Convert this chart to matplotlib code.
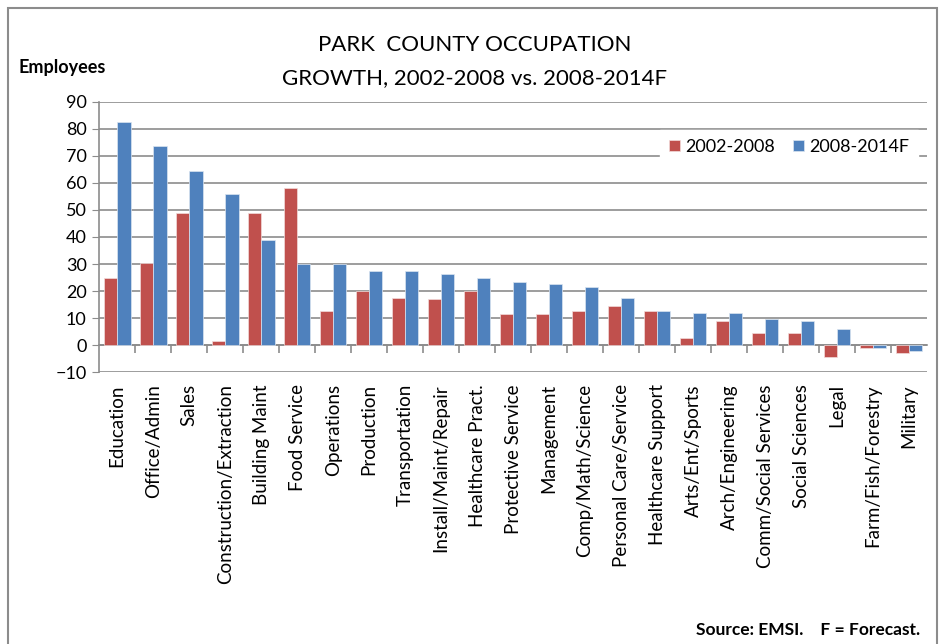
import numpy as np
import matplotlib.pyplot as plt
from matplotlib.patches import Rectangle

plt.rcParams['font.family'] = ['Lato', 'DejaVu Sans']

# Occupation growth, employees
occupations = ['Education', 'Office/Admin', 'Sales', 'Construction/Extraction',
               'Building Maint', 'Food Service', 'Operations', 'Production',
               'Transportation', 'Install/Maint/Repair', 'Healthcare Pract.',
               'Protective Service', 'Management', 'Comp/Math/Science',
               'Personal Care/Service', 'Healthcare Support', 'Arts/Ent/Sports',
               'Arch/Engineering', 'Comm/Social Services', 'Social Sciences',
               'Legal', 'Farm/Fish/Forestry', 'Military']
growth_2002_2008 = [25, 30.5, 49, 1.5, 49, 58, 12.5, 20, 17.5, 17, 20, 11.5,
                    11.5, 12.5, 14.5, 12.5, 2.5, 9, 4.5, 4.5, -4.5, -1, -3]
growth_2008_2014 = [82.5, 73.5, 64.5, 56, 39, 30, 30, 27.5, 27.5, 26.5, 25, 23.5,
                    22.5, 21.5, 17.5, 12.5, 12, 12, 9.5, 9, 6, -1, -2]
y_ticks = list(range(-10, 91, 10))

red = '#C0504D'
blue = '#4F81BD'

fig = plt.figure(figsize=(9.45, 6.44), dpi=100)
ax = fig.add_axes([0.105, 0.422, 0.876, 0.42])

x = np.arange(len(occupations))
w = 0.37
ax.bar(x - w / 2, growth_2002_2008, w, color=red, edgecolor='#f2dcdb', linewidth=0.5,
       label='2002-2008', zorder=3)
ax.bar(x + w / 2, growth_2008_2014, w, color=blue, edgecolor='#dbe5f1', linewidth=0.5,
       label='2008-2014F', zorder=3)

ax.set_xlim(-0.5, len(occupations) - 0.5)
ax.set_ylim(-10, 90)
ax.set_yticks(y_ticks)
ax.yaxis.grid(True, color='#8c8c8c', linewidth=1.2)
ax.set_axisbelow(True)
ax.tick_params(axis='y', length=5, color='#8c8c8c', labelsize=13, pad=4)

ax.spines['bottom'].set_position(('data', 0))
ax.spines['bottom'].set_color('#8c8c8c')
ax.spines['bottom'].set_linewidth(1.2)
ax.spines['left'].set_color('#8c8c8c')
ax.spines['left'].set_linewidth(1.2)
ax.spines['top'].set_visible(False)
ax.spines['right'].set_visible(False)

ax.set_xticks(x)
ax.set_xticklabels(occupations, rotation=90, fontsize=13.5)
ax.tick_params(axis='x', length=0, pad=28)
ax.set_xticks(np.arange(0.5, len(occupations) - 0.5), minor=True)
ax.tick_params(axis='x', which='minor', length=6, color='#8c8c8c', width=1.2, direction='out')

leg = ax.legend(loc='upper right', bbox_to_anchor=(1.0, 0.93), ncol=2, frameon=True,
                fontsize=13, handlelength=0.6, handleheight=0.6, handletextpad=0.3,
                columnspacing=1.0, borderpad=0.5, fancybox=False)
leg.get_frame().set_edgecolor('white')
leg.get_frame().set_facecolor('white')
leg.get_frame().set_alpha(1)

fig.text(0.502, 0.93, 'PARK  COUNTY OCCUPATION', ha='center', va='center', fontsize=16)
fig.text(0.502, 0.878, 'GROWTH, 2002-2008 vs. 2008-2014F', ha='center', va='center', fontsize=16)
fig.text(0.02, 0.895, 'Employees', ha='left', va='center', fontsize=13, fontweight='bold')
fig.text(0.974, 0.022, 'Source: EMSI.    F = Forecast.', ha='right', va='center',
         fontsize=12.5, fontweight='bold')

fig.patches.append(Rectangle((0.008, -0.05), 0.984, 1.038, transform=fig.transFigure,
                             fill=False, edgecolor='#8c8c8c', linewidth=1.5))

fig.savefig('out.png', dpi=100)
